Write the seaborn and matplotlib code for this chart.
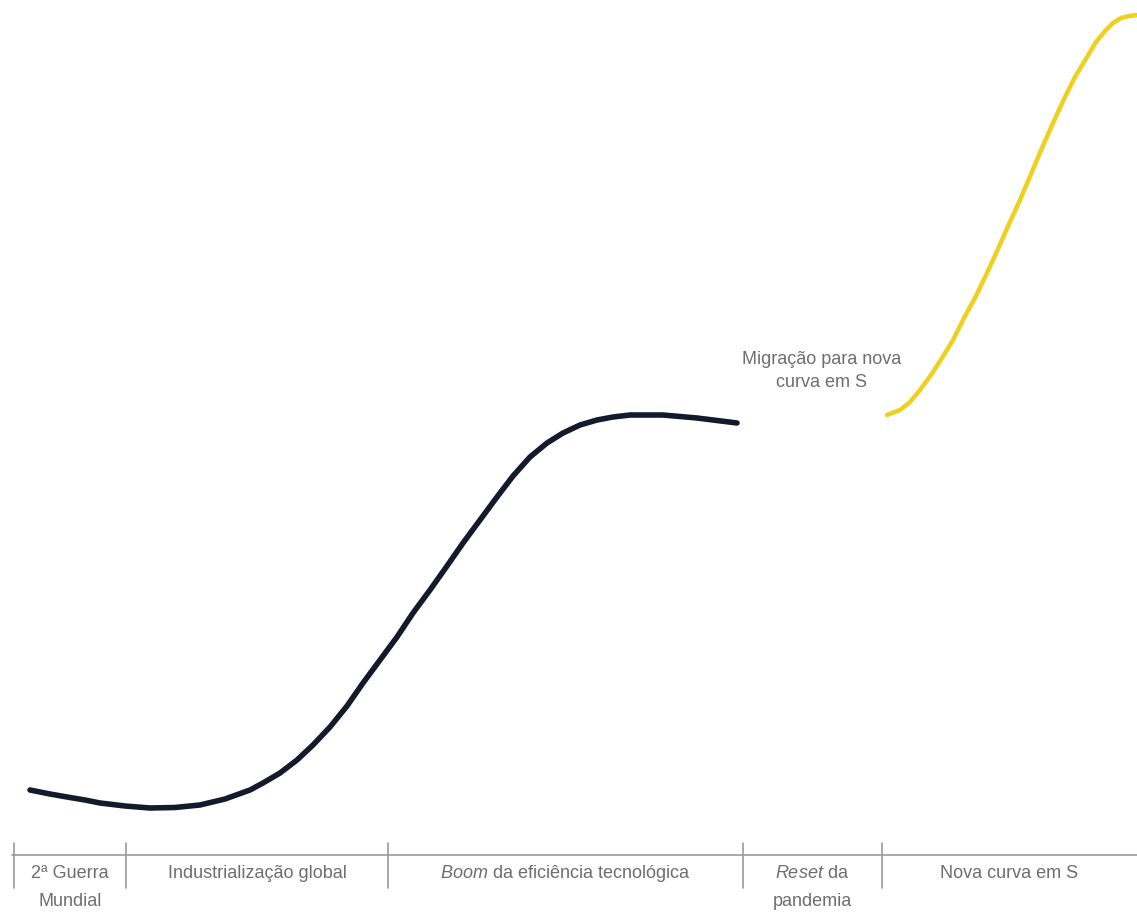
import matplotlib
matplotlib.use("Agg")
import matplotlib.pyplot as plt
import seaborn as sns
import pandas as pd

sns.set_theme(style="white")
plt.rcParams['font.family'] = ['Liberation Sans', 'DejaVu Sans']

# Data (pixel-like coordinate space, y grows downward)
old_x = [30, 50, 67, 85, 100, 125, 150, 175, 200, 225, 250, 263, 280, 297, 313, 330, 347,
         363, 380, 397, 413, 430, 447, 463, 480, 497, 513, 530, 547, 563, 580, 597, 613,
         630, 663, 697, 737]
old_y = [790, 794, 797, 800, 803, 806, 808, 807.5, 805, 799, 790, 783, 773, 760, 745, 727, 706,
         683, 660, 637, 613, 590, 566, 543, 520, 497, 476, 457, 443, 433, 425, 420, 417,
         415, 415, 418, 423]
new_x = [887, 900, 910, 920, 931, 942, 953, 964, 976, 987, 998, 1009, 1020, 1031, 1042, 1053,
         1064, 1075, 1087, 1096, 1105, 1113, 1121, 1129, 1137]
new_y = [415, 410, 402, 390, 375, 358, 340, 318, 296, 273, 249, 224, 200, 174, 148, 123,
         99, 77, 57, 42, 31, 23, 18, 16, 15]

phase_edges = [14, 126, 388, 743, 882]
phase_centers = [70, 257, 565, 812, 1009]
phase_line1 = ["2ª Guerra", "Industrialização global", "$\\mathit{Boom}$ da eficiência tecnológica",
               "$\\mathit{Reset}$ da", "Nova curva em S"]
phase_line2 = ["Mundial", "", "", "pandemia", ""]
note_lines = ["Migração para nova", "curva em S"]

W, H = 1137, 923
fig = plt.figure(figsize=(W / 100, H / 100), dpi=100)
ax = fig.add_axes([0, 0, 1, 1])
ax.set_xlim(0, W)
ax.set_ylim(H, 0)
ax.axis("off")

plt.rcParams['mathtext.fontset'] = 'custom'
plt.rcParams['mathtext.it'] = 'Liberation Sans:italic'
plt.rcParams['mathtext.rm'] = 'Liberation Sans'

df_old = pd.DataFrame({"x": old_x, "y": old_y})
df_new = pd.DataFrame({"x": new_x, "y": new_y})
sns.lineplot(data=df_old, x="x", y="y", ax=ax, color="#131a2c", lw=4.0,
             sort=False, solid_capstyle="round", solid_joinstyle="round")
sns.lineplot(data=df_new, x="x", y="y", ax=ax, color="#f0d01e", lw=3.2,
             sort=False, solid_capstyle="round", solid_joinstyle="round")

grey = "#6e6e6e"
ax.plot([12, W], [855, 855], color="#9a9a9a", lw=1.2)
for xe in phase_edges:
    ax.plot([xe, xe], [843, 888], color="#9a9a9a", lw=1.2)

fs = 13
for xc, l1, l2 in zip(phase_centers, phase_line1, phase_line2):
    ax.text(xc, 878, l1, ha="center", va="baseline", color=grey, fontsize=fs)
    if l2:
        ax.text(xc, 906, l2, ha="center", va="baseline", color=grey, fontsize=fs)

ax.text(822, 364, note_lines[0], ha="center", va="baseline", color=grey, fontsize=fs)
ax.text(822, 387, note_lines[1], ha="center", va="baseline", color=grey, fontsize=fs)

fig.savefig("out.png", dpi=100, facecolor="white")
